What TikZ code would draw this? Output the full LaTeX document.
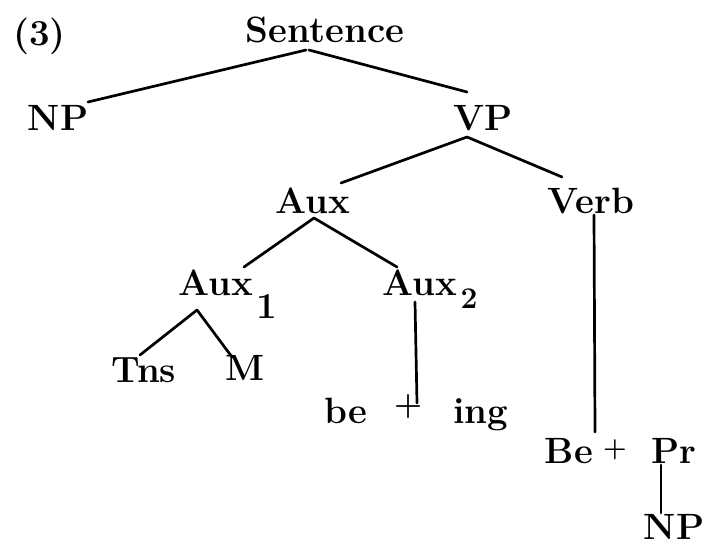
\documentclass[tikz,border=0pt]{standalone}
\usepackage{fontspec}
\begin{document}
\begin{tikzpicture}[x=1pt,y=-1pt,
  lbl/.style={inner sep=0pt, anchor=base, font=\fontsize{36.6}{40}\selectfont\bfseries},
  subtwo/.style={inner sep=0pt, anchor=base, font=\fontsize{30}{34}\selectfont\bfseries},
  plussign/.style={inner sep=0pt, anchor=center, font=\fontsize{32}{36}\selectfont\bfseries},
  edge/.style={draw=black, line width=2.7pt, line cap=round}]
\fill[white] (0,0) rectangle (708,549);
\useasboundingbox (0,0) rectangle (708,549);
\node[lbl, anchor=base west] (num) at (13,45) {(3)};
\node[lbl] (sent) at (325,42) {Sentence};
\node[lbl] (np1) at (58,130) {NP};
\node[lbl] (vp) at (483,130) {VP};
\node[lbl] (aux) at (313,213) {Aux};
\node[lbl] (verb) at (591,213) {Verb};
\node[lbl] (aux1) at (216,295) {Aux};
\node[lbl] (sub1) at (267,318) {1};
\node[lbl] (aux2) at (420,295) {Aux};
\node[subtwo] (sub2) at (469,308) {2};
\node[lbl] (tns) at (144,382) {Tns};
\node[lbl] (m) at (245,380) {M};
\node[lbl] (be1) at (346,423) {be};
\node[plussign] (p1) at (408,407) {+};
\node[lbl] (ing) at (481,423) {ing};
\node[lbl] (be2) at (569,463) {Be};
\node[plussign, font=\fontsize{27}{30}\selectfont\bfseries] (p2) at (615,450) {+};
\node[lbl] (pr) at (674,463) {Pr};
\node[lbl] (np2) at (674,539) {NP};
\draw[edge] ([xshift=-19pt,yshift=-8pt]sent.base) -- ([xshift=30pt,yshift=28pt]np1.base);
\draw[edge] ([xshift=-16pt,yshift=-8pt]sent.base) -- ([xshift=-16pt,yshift=38pt]vp.base);
\draw[edge] ([xshift=-16pt,yshift=-7pt]vp.base) -- ([xshift=28pt,yshift=30pt]aux.base);
\draw[edge] ([xshift=-16pt,yshift=-7pt]vp.base) -- ([xshift=-29pt,yshift=36pt]verb.base);
\draw[edge] ([xshift=1pt,yshift=-5pt]aux.base) -- ([xshift=28pt,yshift=28pt]aux1.base);
\draw[edge] ([xshift=1pt,yshift=-5pt]aux.base) -- ([xshift=-23pt,yshift=28pt]aux2.base);
\draw[edge] ([xshift=3pt,yshift=-2pt]verb.base) -- ([xshift=26pt,yshift=31pt]be2.base);
\draw[edge] ([xshift=-19pt,yshift=-15pt]aux1.base) -- ([xshift=-4pt,yshift=27pt]tns.base);
\draw[edge] ([xshift=-19pt,yshift=-15pt]aux1.base) -- ([xshift=-13pt,yshift=23pt]m.base);
\draw[edge] ([xshift=-5pt,yshift=-7pt]aux2.base) -- ([xshift=9pt,yshift=4pt]p1.center);
\draw[edge] ([xshift=-13pt,yshift=-2pt]pr.base) -- ([xshift=-13pt,yshift=26pt]np2.base);
\end{tikzpicture}
\end{document}
